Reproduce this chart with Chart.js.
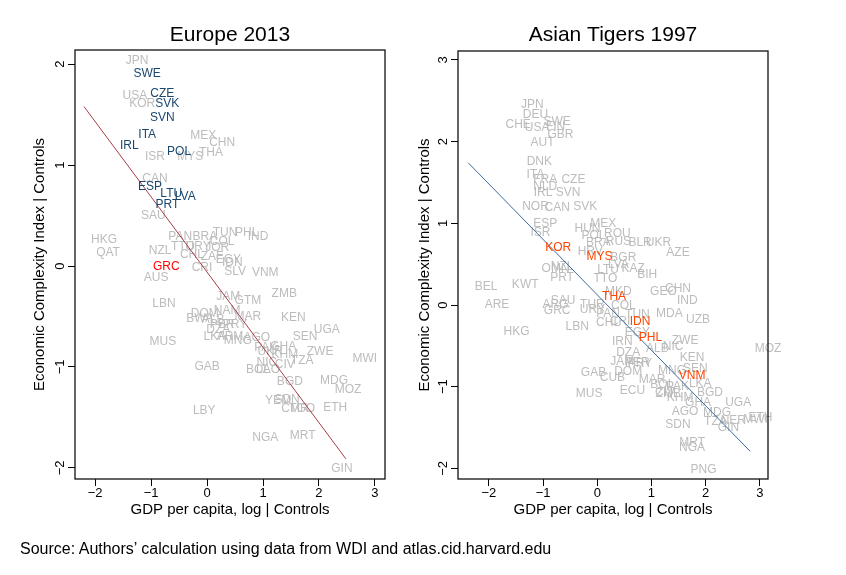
<!DOCTYPE html>
<html>
<head>
<meta charset="utf-8">
<script src="https://cdn.jsdelivr.net/npm/chart.js@4.4.0/dist/chart.umd.min.js"></script>
<style>
body { margin: 0; background: #fff; }
#wrap { position: relative; width: 846px; height: 575px; }
#wrap canvas { position: absolute; left: 0; top: 0; }
#source { position: absolute; left: 20px; top: 540px; font: 16px "Liberation Sans", Arial, sans-serif; color: #000; white-space: nowrap; }
</style>
</head>
<body>
<div id="wrap">
  <canvas id="europe" width="846" height="575"></canvas>
  <canvas id="asia" width="846" height="575"></canvas>
  <div id="source">Source: Authors’ calculation using data from WDI and atlas.cid.harvard.edu</div>
</div>
<script>
// Europe 2013
const euCodes = ['JPN','SWE','USA','CZE','KOR','SVK','SVN','ITA','IRL','MEX','CHN','ISR','POL','MYS','THA','CAN','ESP','LTU','LVA','PRT','SAU',
  'HKG','QAT','PAN','BRA','TUN','PHL','IND','COL','NZL','TTO','URY','JOR','CHL','ZAF','EGY','IDN','SLV','CRI','GRC','AUS','VNM',
  'LBN','JAM','GTM','ZMB','DOM','NAM','MAR','BWA','ALB','PER','PRY','DZA','LKA','ARM','MNG','AGO','MUS','KEN','UGA','SEN',
  'GHA','PAK','UKR','KHM','TZA','ZWE','NIC','CIV','BOL','LAO','MWI','GAB','BGD','MDG','MOZ','YEM','SDN','CMR','TGO','ETH',
  'LBY','NGA','MRT','GIN'];
const euGdp = [-1.25,-1.07,-1.29,-0.80,-1.16,-0.71,-0.80,-1.07,-1.39,-0.07,0.27,-0.93,-0.50,-0.30,0.07,-0.93,-1.02,-0.64,-0.39,-0.71,-0.96,
  -1.84,-1.77,-0.48,-0.04,0.32,0.71,0.91,0.27,-0.84,-0.43,-0.16,0.18,-0.27,0.09,0.38,0.45,0.50,-0.09,-0.73,-0.91,1.04,
  -0.77,0.38,0.73,1.38,-0.04,0.36,0.73,-0.13,0.11,0.27,0.50,0.20,0.14,0.41,0.55,0.89,-0.79,1.54,2.14,1.75,
  1.36,1.05,1.13,1.39,1.70,2.02,1.07,1.39,0.91,1.09,2.82,0.00,1.48,2.27,2.52,1.27,1.43,1.57,1.70,2.29,
  -0.05,1.04,1.71,2.41];
const euEci = [2.03,1.91,1.69,1.71,1.61,1.61,1.47,1.30,1.19,1.29,1.22,1.08,1.13,1.08,1.12,0.87,0.79,0.72,0.69,0.61,0.50,
  0.26,0.13,0.29,0.29,0.33,0.33,0.29,0.24,0.15,0.19,0.19,0.18,0.11,0.09,0.06,0.03,-0.06,-0.02,-0.01,-0.12,-0.07,
  -0.37,-0.30,-0.34,-0.27,-0.47,-0.44,-0.50,-0.52,-0.53,-0.58,-0.58,-0.63,-0.70,-0.70,-0.74,-0.71,-0.75,-0.51,-0.63,-0.70,
  -0.80,-0.81,-0.85,-0.88,-0.94,-0.85,-0.96,-0.98,-1.03,-1.03,-0.92,-1.00,-1.15,-1.14,-1.23,-1.33,-1.32,-1.41,-1.41,-1.40,
  -1.43,-1.70,-1.68,-2.01];
const euBlue = ['SWE','CZE','SVK','SVN','ITA','IRL','POL','ESP','LTU','LVA','PRT'];
const euRed = ['GRC'];
const euFitX = [-2.2, 2.48];
const euFitY = [1.58, -1.91];
const euXTicks = [-2, -1, 0, 1, 2, 3];
const euYTicks = [-2, -1, 0, 1, 2];

// Asian Tigers 1997
const asCodes = ['JPN','DEU','SWE','CHE','USA','FIN','GBR','AUT','DNK','ITA','FRA','CZE','NLD','IRL','SVN','NOR','CAN','SVK','ESP',
  'MEX','HUN','ISR','POL','ROU','BRA','RUS','BLR','UKR','AZE','KOR','HRV','MYS','BGR','LVA','LTU','KAZ','OMN','NZL','PRT','TTO','BIH',
  'BEL','KWT','THA','MKD','GEO','CHN','IND','ARE','SAU','ARG','GRC','TUR','URY','COL','PAN','TUN','CHL','CRI','LBN','HKG',
  'IDN','MDA','UZB','PHL','EGY','IRN','ZWE','NIC','ALB','DZA','KEN','JAM','PER','PRY','GAB','DOM','CUB','SEN','MNG','VNM',
  'MAR','LKA','MUS','ECU','BOL','PAK','CIV','KHM','ZMB','BGD','GHA','UGA','AGO','MDG','SDN','TZA','GIN','NER','MWI','ETH',
  'MRT','NGA','PNG','MOZ'];
const asGdp = [-1.20,-1.14,-0.74,-1.46,-1.11,-0.77,-0.68,-1.01,-1.07,-1.14,-0.96,-0.44,-0.96,-1.00,-0.54,-1.14,-0.74,-0.22,-0.96,
  0.11,-0.18,-1.05,-0.07,0.37,0.02,0.39,0.79,1.13,1.49,-0.72,-0.13,0.04,0.48,0.39,0.20,0.66,-0.77,-0.65,-0.65,0.15,0.92,
  -2.05,-1.33,0.31,0.39,1.22,1.49,1.66,-1.85,-0.63,-0.77,-0.74,-0.09,-0.09,0.48,0.20,0.74,0.20,0.42,-0.37,-1.49,
  0.79,1.33,1.86,0.98,0.74,0.46,1.62,1.40,1.11,0.57,1.75,0.46,0.74,0.79,-0.07,0.57,0.28,1.81,1.38,1.75,
  1.01,1.90,-0.15,0.65,1.20,1.48,1.25,1.53,1.31,2.08,1.86,2.60,1.62,2.21,1.49,2.18,2.42,2.51,2.92,3.01,
  1.75,1.75,1.96,3.15];
const asEci = [2.45,2.33,2.25,2.21,2.17,2.18,2.08,1.99,1.75,1.59,1.54,1.54,1.45,1.37,1.37,1.21,1.19,1.20,1.00,
  0.99,0.94,0.88,0.85,0.87,0.76,0.77,0.76,0.76,0.64,0.70,0.65,0.59,0.58,0.49,0.43,0.45,0.44,0.47,0.34,0.32,0.37,
  0.23,0.25,0.10,0.16,0.16,0.20,0.05,0.01,0.05,0.00,-0.07,0.00,-0.06,-0.01,-0.10,-0.12,-0.22,-0.21,-0.27,-0.33,
  -0.21,-0.10,-0.18,-0.40,-0.34,-0.45,-0.44,-0.51,-0.53,-0.58,-0.64,-0.69,-0.70,-0.72,-0.83,-0.82,-0.89,-0.78,-0.80,-0.87,
  -0.92,-0.96,-1.08,-1.05,-0.98,-1.00,-1.07,-1.13,-1.08,-1.07,-1.20,-1.19,-1.31,-1.32,-1.46,-1.43,-1.50,-1.41,-1.40,-1.38,
  -1.69,-1.75,-2.01,-0.53];
const asRed = ['KOR','MYS','THA','IDN','PHL','VNM'];
const asFitX = [-2.38, 2.82];
const asFitY = [1.74, -1.79];
const asXTicks = [-2, -1, 0, 1, 2, 3];
const asYTicks = [-2, -1, 0, 1, 2, 3];

const FONT = '"Liberation Sans", Arial, Helvetica, sans-serif';
const GREY = '#bcbcbc';

Chart.defaults.font.family = FONT;

function tickText(v) {
    return v < 0 ? '\u2212' + Math.abs(v) : String(v);
}

// country codes are drawn as the markers; grey ones under the fit line, coloured ones on top
function drawCodes(chart, highlighted) {
    const ds = chart.data.datasets[0];
    const meta = chart.getDatasetMeta(0);
    const ctx = chart.ctx;
    ctx.save();
    ctx.font = '12px ' + FONT;
    ctx.textAlign = 'center';
    ctx.textBaseline = 'middle';
    meta.data.forEach((pt, i) => {
        const col = ds.codeColors[ds.codes[i]];
        if (!!col !== highlighted) return;
        ctx.fillStyle = col || GREY;
        ctx.fillText(ds.codes[i], pt.x, pt.y);
    });
    ctx.restore();
}

const codeLabels = {
    id: 'codeLabels',
    beforeDatasetsDraw(chart) { drawCodes(chart, false); },
    afterDatasetsDraw(chart) {
        drawCodes(chart, true);
        const a = chart.chartArea;
        const ctx = chart.ctx;
        ctx.save();
        ctx.strokeStyle = '#111';
        ctx.lineWidth = 1.3;
        ctx.strokeRect(a.left, a.top, a.right - a.left, a.bottom - a.top);
        ctx.restore();
    }
};

function axis(min, max, ticks, title, fit, titlePad, extra) {
    return Object.assign({
        type: 'linear',
        min: min,
        max: max,
        afterBuildTicks: ax => { ax.ticks = ticks.map(v => ({ value: v })); },
        afterFit: fit,
        border: { display: false },
        grid: { drawOnChartArea: false, drawTicks: true, tickLength: 7, color: '#000', lineWidth: 1 },
        ticks: { color: '#000', font: { size: 13 }, padding: 0, callback: v => tickText(v) },
        title: { display: true, text: title, color: '#000', font: { size: 15 }, padding: titlePad }
    }, extra || {});
}

function makeChart(id, opts) {
    const colors = {};
    opts.blue.forEach(c => colors[c] = '#1a476f');
    opts.red.forEach(c => colors[c] = opts.redColor);
    return new Chart(document.getElementById(id), {
        type: 'scatter',
        data: {
            datasets: [
                {
                    data: opts.codes.map((c, i) => ({ x: opts.gdp[i], y: opts.eci[i] })),
                    codes: opts.codes,
                    codeColors: colors,
                    pointRadius: 0,
                    pointHoverRadius: 0
                },
                {
                    data: opts.fitX.map((x, i) => ({ x: x, y: opts.fitY[i] })),
                    showLine: true,
                    borderColor: opts.lineColor,
                    borderWidth: 1,
                    pointRadius: 0,
                    pointHoverRadius: 0,
                    fill: false
                }
            ]
        },
        options: {
            responsive: false,
            animation: false,
            events: [],
            layout: { padding: opts.padding },
            plugins: {
                legend: { display: false },
                tooltip: { enabled: false },
                title: {
                    display: true,
                    text: opts.title,
                    fullSize: false,
                    color: '#000',
                    font: { size: 21, weight: 'normal' },
                    padding: { top: 0, bottom: opts.titleGap }
                }
            },
            scales: {
                x: axis(opts.xMin, opts.xMax, opts.xTicks, 'GDP per capita, log | Controls',
                    ax => { ax.height = 42; }, { top: 0, bottom: 2 }, { ticks: { color: '#000', font: { size: 13 }, padding: 0, maxRotation: 0, callback: v => tickText(v) } }),
                y: axis(opts.yMin, opts.yMax, opts.yTicks, 'Economic Complexity Index | Controls',
                    ax => { ax.width = opts.yWidth; }, { top: 4, bottom: 0 },
                    { ticks: { color: '#000', font: { size: 13 }, padding: 0, minRotation: 90, maxRotation: 90, crossAlign: 'center', callback: v => tickText(v) } })
            }
        },
        plugins: [codeLabels]
    });
}

makeChart('europe', {
    title: 'Europe 2013',
    codes: euCodes, gdp: euGdp, eci: euEci,
    blue: euBlue, red: euRed, redColor: '#ff0000',
    fitX: euFitX, fitY: euFitY, lineColor: '#a83c48',
    xTicks: euXTicks, yTicks: euYTicks,
    xMin: -2.36, xMax: 3.18, yMin: -2.11, yMax: 2.14,
    yWidth: 48, titleGap: 2.4,
    padding: { left: 27, right: 461, top: 22.4, bottom: 54 }
});

makeChart('asia', {
    title: 'Asian Tigers 1997',
    codes: asCodes, gdp: asGdp, eci: asEci,
    blue: [], red: asRed, redColor: '#ff4500',
    fitX: asFitX, fitY: asFitY, lineColor: '#3a6a9c',
    xTicks: asXTicks, yTicks: asYTicks,
    xMin: -2.57, xMax: 3.15, yMin: -2.13, yMax: 3.11,
    yWidth: 46, titleGap: 3.4,
    padding: { left: 412, right: 78, top: 22.4, bottom: 54 }
});
</script>
</body>
</html>
